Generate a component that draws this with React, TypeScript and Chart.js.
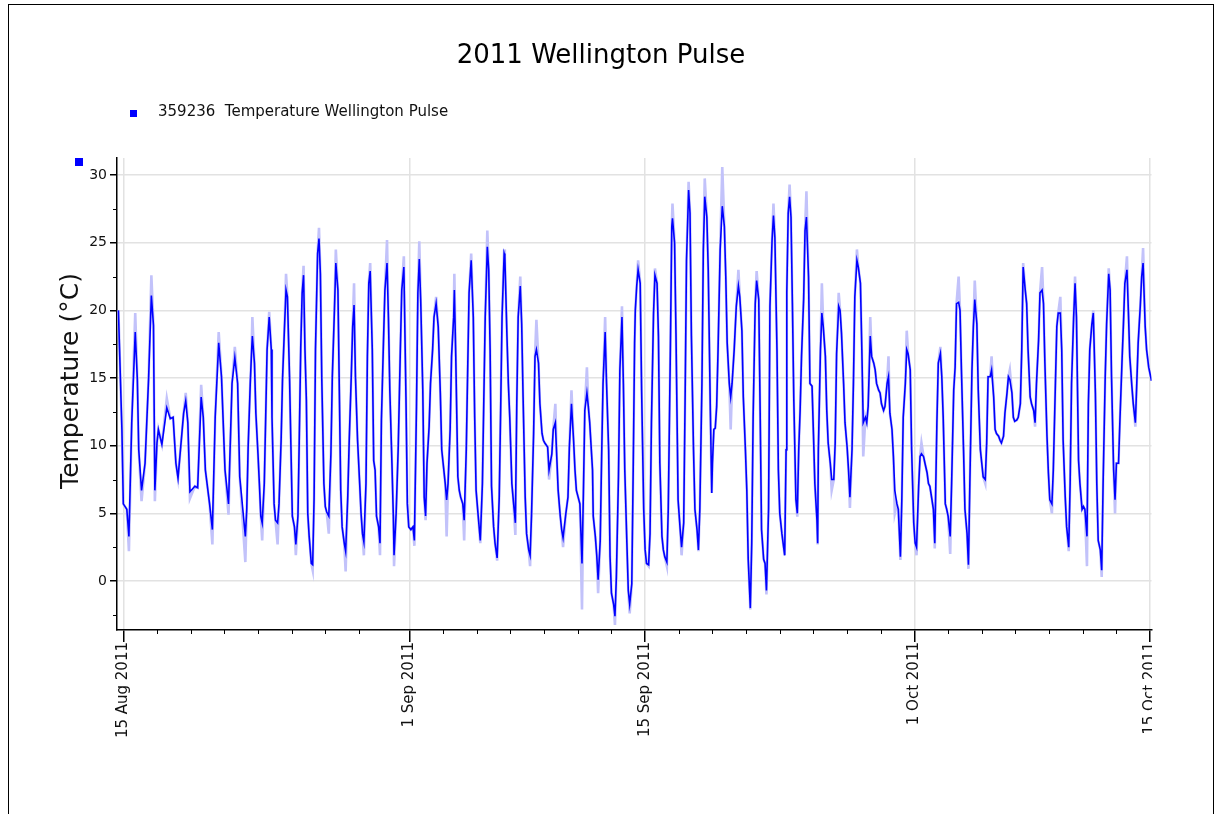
import React, { useEffect, useRef } from 'react';
import { Chart, registerables } from 'chart.js';

Chart.register(...registerables);

const FONT = '"DejaVu Sans", "Liberation Sans", sans-serif';

const chartTitle = '2011 Wellington Pulse';
const seriesName = '359236  Temperature Wellington Pulse';
const yAxisTitle = 'Temperature (°C)';

// x values are hours since 15 Aug 2011 00:00
const majorTickHours = [0, 408, 744, 1128, 1464];
const majorTickLabels = ['15 Aug 2011', '1 Sep 2011', '15 Sep 2011', '1 Oct 2011', '15 Oct 2011'];
const minorTickHours = [48, 96, 144, 192, 240, 288, 336, 456, 504, 552, 600, 648, 696, 792, 840, 888, 936, 984, 1032, 1080, 1176, 1224, 1272, 1320, 1368, 1416];
const yMajorTicks = [0, 5, 10, 15, 20, 25, 30];
const yMinorTicks = [-2.5, 2.5, 7.5, 12.5, 17.5, 22.5, 27.5];

// [hour, °C] hourly-mean readings
const readingsAug15to22 = [
  [-7, 20.0], [-2, 11.2], [0, 5.7], [5, 5.3], [8, 3.3], [12, 11.7], [17, 18.4], [20, 14.9], [22, 9.7], [26, 6.7],
  [31, 8.7], [36, 14.9], [40, 21.1], [43, 18.9], [45, 6.7], [48, 10.2], [50, 11.2], [55, 10.1], [62, 12.8], [67, 12.0],
  [71, 12.1], [75, 8.7], [78, 7.6], [86, 12.4], [89, 13.3], [92, 11.7], [95, 6.6], [102, 7.0], [106, 6.9], [111, 13.6],
  [114, 12.1], [117, 8.2], [123, 5.7], [127, 3.8], [131, 12.1], [136, 17.6], [140, 15.1], [145, 8.2], [150, 5.7], [155, 14.6],
  [159, 16.5], [163, 14.6], [166, 7.7], [174, 3.3],
];
const readingsAug22to30 = [
  [176, 5.3], [178, 9.9], [181, 14.6], [183, 17.1], [184, 18.1], [187, 16.1], [189, 12.4], [192, 9.4], [194, 7.2], [196, 4.8],
  [198, 4.3], [201, 7.2], [203, 12.1], [205, 17.1], [208, 19.5], [211, 17.1], [212, 12.1], [215, 5.7], [217, 4.5], [220, 4.3],
  [222, 5.7], [225, 10.4], [227, 14.9], [230, 19.0], [232, 21.5], [234, 21.0], [237, 15.1], [239, 9.9], [241, 4.8], [244, 4.0],
  [246, 2.7], [249, 4.8], [251, 10.9], [253, 17.3], [255, 21.3], [257, 22.6], [259, 17.1], [261, 13.4], [263, 5.0], [265, 3.3],
  [268, 1.3], [270, 1.2], [272, 6.1], [274, 17.1], [277, 24.2], [279, 25.3], [281, 22.7], [283, 14.9], [286, 7.2], [288, 5.5],
  [290, 5.1], [293, 4.8], [296, 9.4], [298, 15.1], [301, 20.0], [303, 23.5], [306, 21.5], [308, 14.1], [310, 6.7], [312, 4.0],
  [315, 2.8], [317, 2.2], [320, 6.2], [322, 10.2], [325, 15.1], [327, 18.8], [329, 20.4], [331, 15.1], [334, 10.4], [337, 7.2],
  [339, 5.0], [341, 3.5], [343, 2.9], [346, 7.2], [348, 16.6], [350, 22.0], [352, 22.9], [355, 17.1], [357, 8.9], [359, 8.2],
];
const readingsAug30toSep7 = [
  [361, 4.8], [364, 4.0], [366, 2.8], [368, 11.9], [371, 17.8], [373, 21.5], [376, 23.5], [378, 19.5], [380, 14.1], [383, 8.7],
  [385, 4.8], [386, 1.9], [389, 5.0], [392, 9.9], [395, 17.1], [397, 21.5], [400, 23.2], [403, 13.6], [405, 5.7], [407, 4.0],
  [410, 3.8], [413, 4.0], [415, 3.0], [418, 12.9], [420, 21.3], [422, 23.8], [424, 20.8], [427, 14.1], [429, 6.2], [431, 4.8],
  [433, 8.7], [436, 11.4], [438, 14.6], [441, 17.1], [443, 19.5], [446, 20.5], [449, 18.8], [452, 13.9], [454, 9.7], [456, 8.7],
  [459, 7.2], [461, 6.0], [463, 7.2], [466, 11.2], [468, 16.6], [471, 19.5], [472, 21.5], [474, 16.6], [477, 7.7], [479, 6.7],
  [481, 6.2], [484, 5.7], [486, 4.5], [489, 9.7], [491, 15.6], [493, 21.3], [496, 23.7], [499, 19.5], [501, 12.1], [503, 6.7],
  [506, 4.8], [509, 3.0], [512, 7.2], [514, 13.4], [516, 19.5], [519, 24.7], [521, 23.0], [523, 17.1], [525, 7.0], [528, 4.0],
  [530, 2.8], [533, 1.7], [536, 6.2], [538, 12.6], [540, 19.5], [543, 24.2],
];
const readingsSep7to15 = [
  [544, 24.0], [547, 18.1], [549, 14.6], [551, 12.1], [554, 7.2], [556, 6.0], [559, 4.3], [561, 13.1], [563, 19.5], [566, 21.8],
  [568, 19.0], [570, 13.6], [573, 6.2], [575, 3.5], [578, 2.3], [580, 1.9], [582, 4.8], [585, 10.9], [587, 16.6], [589, 17.1],
  [592, 16.1], [594, 13.1], [597, 10.9], [599, 10.4], [601, 10.2], [605, 9.9], [607, 8.2], [611, 9.4], [613, 11.2], [616, 11.7],
  [618, 9.2], [620, 6.7], [623, 4.8], [625, 3.8], [627, 3.2], [631, 5.0], [634, 6.2], [636, 9.9], [639, 13.1], [642, 10.4],
  [644, 8.2], [646, 6.7], [651, 5.7], [654, 1.3], [656, 6.5], [658, 12.6], [661, 13.9], [663, 12.9], [665, 11.7], [669, 8.2],
  [670, 4.8], [673, 3.3], [675, 1.9], [677, 0.1], [680, 3.0], [682, 9.2], [684, 14.6], [687, 18.4], [689, 14.6], [692, 9.7],
  [694, 1.8], [696, -0.9], [699, -1.7], [701, -2.6], [703, 0.3], [706, 7.7], [708, 15.6], [711, 19.5], [713, 14.6], [715, 8.2],
  [718, 2.8], [720, -0.7], [722, -1.7], [725, -0.2], [727, 8.2], [729, 17.6], [730, 20.0],
];
const readingsSep15to23 = [
  [732, 21.8], [734, 23.0], [737, 22.0], [739, 14.1], [742, 5.3], [744, 2.3], [746, 1.3], [749, 1.2], [751, 3.5], [753, 11.7],
  [756, 19.8], [758, 22.6], [761, 22.0], [763, 18.1], [765, 8.7], [768, 3.3], [770, 2.3], [772, 1.8], [775, 1.4], [777, 5.3],
  [780, 17.1], [782, 26.2], [783, 26.8], [786, 25.0], [788, 18.3], [790, 10.2], [791, 6.0], [794, 3.8], [796, 2.5], [799, 4.3],
  [801, 13.4], [803, 23.7], [806, 28.9], [808, 27.2], [810, 18.1], [813, 9.7], [815, 5.3], [818, 3.8], [820, 2.3], [822, 5.3],
  [825, 14.6], [827, 24.5], [829, 28.4], [832, 26.9], [834, 23.0], [837, 12.6], [839, 6.5], [840, 8.7], [842, 11.2], [844, 11.3],
  [846, 12.9], [848, 17.1], [851, 24.5], [854, 27.7], [857, 26.2], [859, 22.5], [861, 17.6], [864, 14.6], [866, 13.6], [868, 14.6],
  [871, 17.1], [874, 20.3], [877, 21.8], [879, 21.0], [882, 18.5], [884, 13.6], [887, 9.7], [889, 6.7], [891, 1.6], [894, -2.0],
  [896, 2.8], [898, 12.1], [901, 20.5], [903, 22.2], [906, 20.8], [908, 12.6], [910, 3.8], [913, 1.6], [915, 1.3],
];
const readingsSep23toOct1 = [
  [917, -0.7], [920, 5.3], [922, 20.3], [925, 25.2], [927, 27.0], [929, 25.4], [932, 17.1], [934, 8.2], [936, 5.0], [939, 3.5],
  [943, 1.9], [945, 9.7], [946, 21.3], [948, 27.2], [950, 28.4], [952, 26.9], [954, 20.5], [956, 13.4], [959, 6.0], [961, 5.0],
  [963, 9.7], [965, 12.6], [967, 16.6], [970, 20.8], [972, 25.9], [974, 26.9], [977, 22.5], [979, 14.6], [982, 14.4], [984, 10.9],
  [986, 7.2], [989, 4.5], [990, 2.8], [991, 9.7], [994, 17.1], [996, 19.8], [998, 18.8], [1001, 16.6], [1003, 12.6], [1005, 10.2],
  [1008, 8.7], [1010, 7.5], [1013, 7.5], [1015, 10.2], [1017, 16.8], [1020, 20.3], [1022, 20.0], [1024, 18.3], [1027, 14.6], [1029, 11.7],
  [1032, 9.9], [1034, 8.2], [1036, 6.2], [1039, 9.7], [1041, 14.6], [1043, 21.0], [1046, 23.7], [1048, 23.2], [1051, 22.0], [1053, 17.1],
  [1055, 11.7], [1058, 12.1], [1060, 11.7], [1062, 12.9], [1065, 18.1], [1067, 16.6], [1070, 16.1], [1072, 15.6], [1074, 14.6], [1077, 14.1],
  [1079, 13.9], [1081, 13.1], [1084, 12.6], [1086, 12.9], [1089, 14.6], [1091, 15.1], [1093, 12.4], [1096, 11.2], [1098, 9.2], [1100, 6.7],
];
const readingsOct1to8 = [
  [1103, 5.7], [1105, 5.3], [1108, 1.8], [1110, 6.0], [1112, 12.1], [1115, 14.6], [1117, 17.1], [1119, 16.8], [1122, 15.6], [1124, 9.7],
  [1127, 4.3], [1129, 2.8], [1131, 2.5], [1134, 7.0], [1136, 9.2], [1138, 9.4], [1141, 9.2], [1143, 8.7], [1146, 8.0], [1148, 7.2],
  [1150, 7.0], [1153, 6.0], [1155, 5.3], [1157, 2.8], [1160, 11.7], [1162, 16.1], [1165, 16.8], [1167, 15.1], [1169, 12.1], [1172, 5.7],
  [1174, 5.3], [1176, 4.8], [1179, 3.3], [1181, 7.2], [1184, 14.1], [1186, 15.8], [1188, 20.5], [1191, 20.6], [1193, 20.0], [1195, 15.6],
  [1198, 9.7], [1200, 5.3], [1203, 3.5], [1205, 1.2], [1207, 7.2], [1210, 15.6], [1212, 18.8], [1214, 20.8], [1217, 19.0], [1219, 14.1],
  [1222, 9.7], [1224, 8.7], [1226, 7.7], [1229, 7.5], [1231, 10.2], [1233, 15.1], [1236, 15.1], [1238, 15.6], [1241, 13.6], [1243, 11.2],
  [1245, 10.9], [1248, 10.7], [1250, 10.4], [1252, 10.2], [1255, 10.7], [1257, 12.4], [1260, 13.9], [1262, 15.1], [1264, 14.9], [1267, 13.9],
  [1269, 12.1], [1271, 11.8], [1274, 11.9], [1276, 12.1], [1279, 13.1], [1281, 17.1], [1283, 23.2], [1286, 21.5],
];
const readingsOct8to15 = [
  [1288, 20.5], [1290, 17.1], [1293, 13.6], [1295, 13.1], [1298, 12.6], [1300, 11.7], [1302, 14.6], [1305, 17.8], [1307, 21.3], [1310, 21.5],
  [1312, 20.5], [1314, 16.1], [1317, 10.7], [1319, 8.0], [1321, 6.0], [1324, 5.7], [1326, 8.2], [1329, 14.6], [1331, 18.8], [1333, 19.8],
  [1336, 19.8], [1338, 17.1], [1340, 10.4], [1343, 6.2], [1345, 4.0], [1348, 2.5], [1350, 7.2], [1352, 14.6], [1355, 19.5], [1357, 22.0],
  [1359, 19.5], [1362, 8.9], [1364, 7.2], [1367, 5.3], [1369, 5.5], [1371, 5.3], [1374, 3.3], [1376, 13.1], [1378, 17.1], [1381, 19.0],
  [1383, 19.8], [1386, 13.9], [1388, 7.2], [1390, 3.0], [1393, 2.3], [1395, 0.8], [1397, 7.2], [1400, 15.1], [1402, 19.0], [1405, 22.7],
  [1407, 21.5], [1409, 15.1], [1412, 8.2], [1414, 6.0], [1416, 8.7], [1419, 8.7], [1421, 11.9], [1424, 16.3], [1426, 19.0], [1428, 22.0],
  [1431, 23.0], [1433, 20.0], [1435, 16.6], [1438, 14.4], [1440, 13.1], [1443, 11.7], [1445, 14.6], [1447, 17.6], [1450, 20.3], [1452, 22.5],
  [1454, 23.5], [1457, 18.8], [1459, 17.1], [1462, 15.8], [1464, 15.3], [1466, 14.8],
];

// [hour, °C] raw (un-averaged) extremes, where the raw trace departs from the hourly mean
const rawExtremesAug = [
  [8, 2.2], [17, 19.8], [26, 5.9], [40, 22.6], [45, 5.9], [62, 13.5], [89, 13.9], [95, 6.1], [111, 14.5], [127, 2.7],
  [136, 18.4], [150, 4.9], [159, 17.3], [174, 1.4], [184, 19.5], [198, 3.0], [208, 19.9], [220, 2.7], [232, 22.7], [246, 1.9],
  [257, 23.3], [270, 0.8], [279, 26.1], [293, 3.5], [303, 24.5], [317, 0.7], [329, 22.0], [343, 1.9], [352, 23.5],
];
const rawExtremesSep = [
  [366, 1.9], [376, 25.2], [386, 1.1], [400, 24.0], [415, 2.6], [422, 25.1], [431, 4.5], [446, 21.0], [461, 3.3], [472, 22.7],
  [486, 3.0], [496, 24.2], [509, 2.8], [519, 25.9], [533, 1.5], [543, 24.5], [559, 3.4], [566, 22.5], [580, 1.1], [589, 19.3],
  [607, 7.5], [616, 13.1], [627, 2.5], [639, 14.1], [654, -2.1], [661, 15.8], [677, -0.9], [687, 19.5], [701, -3.25], [711, 20.3],
  [722, -2.4], [734, 23.7], [749, 1.1], [758, 23.1], [775, 1.1], [783, 27.9], [796, 1.9], [806, 29.5], [820, 2.2], [829, 29.75],
  [854, 30.6], [866, 11.2], [877, 23.0], [894, -2.1], [903, 22.9], [917, -1.0], [927, 27.9], [943, 1.9], [950, 29.3], [961, 4.75],
  [974, 28.8], [990, 2.7], [996, 22.0], [1010, 6.7], [1020, 21.3], [1036, 5.4], [1046, 24.5], [1055, 9.2], [1065, 19.5], [1091, 16.6],
];
const rawExtremesOct = [
  [1100, 5.0], [1108, 1.55], [1117, 18.5], [1131, 1.9], [1138, 10.2], [1157, 2.4], [1165, 17.3], [1179, 2.0], [1191, 22.5], [1205, 0.9],
  [1214, 22.2], [1229, 7.2], [1238, 16.6], [1264, 15.6], [1283, 23.5], [1300, 11.4], [1310, 23.2], [1324, 5.0], [1336, 21.0], [1348, 2.2],
  [1357, 22.5], [1374, 1.1], [1383, 20.0], [1395, 0.3], [1405, 23.1], [1414, 5.0], [1431, 24.0], [1443, 11.4], [1454, 24.6],
];

const meanReadings = [
  ...readingsAug15to22, ...readingsAug22to30, ...readingsAug30toSep7, ...readingsSep7to15,
  ...readingsSep15to23, ...readingsSep23toOct1, ...readingsOct1to8, ...readingsOct8to15,
];
const rawExtremeMap = new Map([...rawExtremesAug, ...rawExtremesSep, ...rawExtremesOct].map(([h, t]) => [h, t]));

const decorPlugin = {
  id: 'decor',
  afterDraw(chart: any) {
    const ctx = chart.ctx;
    const xs = chart.scales.x;
    const ys = chart.scales.y;
    const area = chart.chartArea;
    ctx.save();
    ctx.strokeStyle = '#000';
    ctx.lineWidth = 1;
    ctx.beginPath();
    minorTickHours.forEach((h) => {
      const px = Math.round(xs.getPixelForValue(h)) + 0.5;
      ctx.moveTo(px, area.bottom);
      ctx.lineTo(px, area.bottom + 4);
    });
    yMinorTicks.forEach((v) => {
      const py = Math.round(ys.getPixelForValue(v)) + 0.5;
      ctx.moveTo(area.left - 4, py);
      ctx.lineTo(area.left, py);
    });
    ctx.stroke();
    // the last date label is cut by the plot frame in the original
    ctx.fillStyle = '#fff';
    ctx.fillRect(area.right + 0.5, area.bottom + 13, 60, 120);
    // legend
    ctx.fillStyle = '#0000ff';
    ctx.fillRect(130, 110, 7, 7);
    ctx.fillRect(75, 158, 8, 8);
    ctx.fillStyle = '#111';
    ctx.font = '15px ' + FONT;
    ctx.textBaseline = 'middle';
    ctx.textAlign = 'left';
    ctx.fillText(seriesName, 158, 112);
    // y axis title
    ctx.translate(71, 381);
    ctx.rotate(-Math.PI / 2);
    ctx.textAlign = 'center';
    ctx.font = '25px ' + FONT;
    ctx.fillText(yAxisTitle, 0, 0);
    ctx.restore();
  },
};

export default function App() {
  const canvasRef = useRef<HTMLCanvasElement | null>(null);

  useEffect(() => {
    if (!canvasRef.current) return;
    const meanData = meanReadings.map(([h, t]) => ({ x: h, y: t }));
    const rawData = meanReadings.map(([h, t]) => ({ x: h, y: rawExtremeMap.has(h) ? rawExtremeMap.get(h) : t }));

    const chart = new Chart(canvasRef.current, {
      type: 'line',
      data: {
        datasets: [
          {
            label: seriesName,
            data: meanData,
            borderColor: '#0000ff',
            borderWidth: 1.6,
            pointRadius: 0,
            tension: 0,
            fill: false,
          },
          {
            label: 'raw',
            data: rawData,
            borderColor: '#c2c2fa',
            borderWidth: 2.6,
            pointRadius: 0,
            tension: 0,
            fill: false,
          },
        ],
      },
      options: {
        responsive: false,
        animation: false,
        devicePixelRatio: 1,
        layout: { padding: { left: 50.5, right: 68.5, top: 0, bottom: 0 } },
        plugins: {
          legend: { display: false },
          tooltip: { enabled: false },
          title: {
            display: true,
            text: chartTitle,
            color: '#000',
            font: { family: FONT, size: 26, weight: 'normal', lineHeight: 1.2 },
            padding: { top: 41, bottom: 85.8 },
          },
        },
        scales: {
          x: {
            type: 'linear',
            min: -9,
            max: 1466,
            afterBuildTicks: (s: any) => {
              s.ticks = majorTickHours.map((v) => ({ value: v }));
            },
            afterFit: (s: any) => {
              s.height = 184;
            },
            ticks: {
              autoSkip: false,
              minRotation: 90,
              maxRotation: 90,
              padding: 0,
              color: '#111',
              font: { family: FONT, size: 15 },
              callback: (v: any) => {
                const i = majorTickHours.indexOf(Number(v));
                return i >= 0 ? majorTickLabels[i] : '';
              },
            },
            grid: { color: '#e2e2e2', lineWidth: 1.5, tickColor: '#000', tickLength: 12, tickWidth: 1.5 },
            border: { color: '#000', width: 1.5 },
          },
          y: {
            type: 'linear',
            min: -3.62,
            max: 31.26,
            afterBuildTicks: (s: any) => {
              s.ticks = yMajorTicks.map((v) => ({ value: v }));
            },
            afterFit: (s: any) => {
              s.width = 66.5;
            },
            ticks: {
              padding: 3,
              color: '#111',
              font: { family: FONT, size: 14 },
            },
            grid: { color: '#e2e2e2', lineWidth: 1.5, tickColor: '#000', tickLength: 7, tickWidth: 1.5 },
            border: { color: '#000', width: 1.5 },
          },
        },
      },
      plugins: [decorPlugin],
    } as any);

    return () => chart.destroy();
  }, []);

  return (
    <div style={{ position: 'fixed', left: 0, top: 0, width: 1220, height: 814, background: '#fff', overflow: 'hidden' }}>
      <canvas ref={canvasRef} width={1220} height={814} style={{ display: 'block', width: 1220, height: 814 }} />
      <div
        style={{
          position: 'absolute',
          left: 8,
          top: 4,
          width: 1204,
          height: 830,
          borderTop: '1px solid #000',
          borderLeft: '1px solid #000',
          borderRight: '1px solid #000',
          pointerEvents: 'none',
        }}
      />
    </div>
  );
}
